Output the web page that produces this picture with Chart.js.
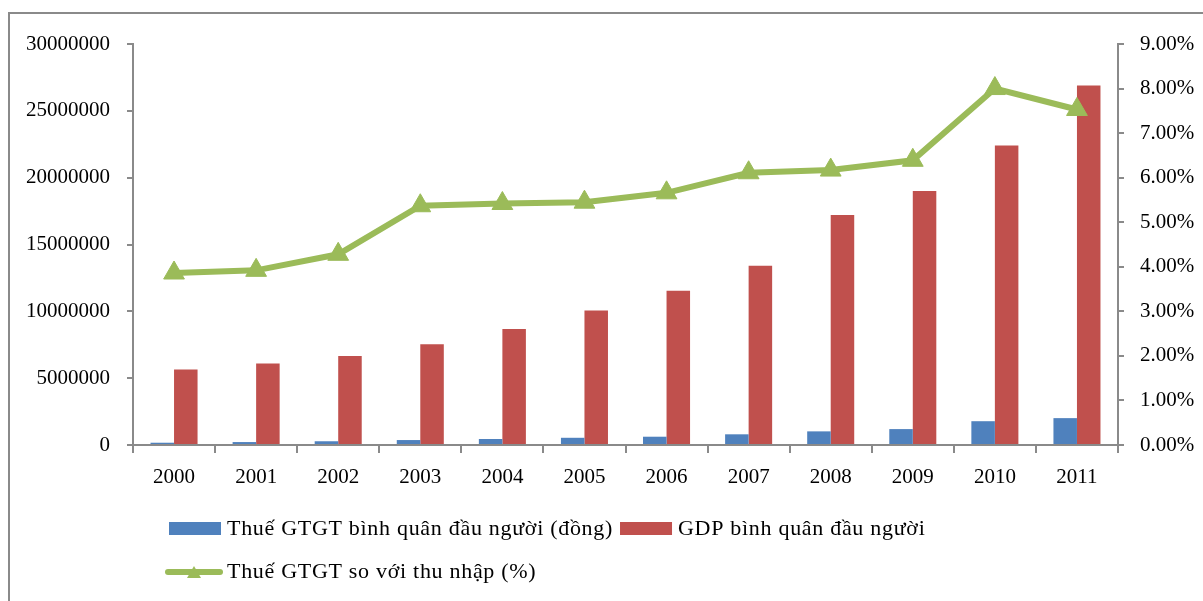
<!DOCTYPE html>
<html>
<head>
<meta charset="utf-8">
<script src="https://cdn.jsdelivr.net/npm/chart.js@4.4.1/dist/chart.umd.min.js"></script>
<style>
  html, body { margin: 0; padding: 0; background: #fff; }
  #wrap { position: relative; width: 1203px; height: 601px; }
</style>
</head>
<body>
<div id="wrap"><canvas id="vat" width="1203" height="601"></canvas></div>
<script>
// data
const years = ["2000", "2001", "2002", "2003", "2004", "2005", "2006", "2007", "2008", "2009", "2010", "2011"];
const vatPerCapita = [170000, 220000, 280000, 370000, 450000, 540000, 620000, 800000, 1020000, 1190000, 1780000, 2010000];
const gdpPerCapita = [5650000, 6100000, 6660000, 7540000, 8680000, 10070000, 11540000, 13410000, 17200000, 19000000, 22400000, 26900000];
const vatShare = [3.86, 3.92, 4.28, 5.37, 5.42, 5.45, 5.66, 6.11, 6.17, 6.39, 8.00, 7.53];

const labelVat = "Thuế GTGT bình quân đầu người (đồng)";
const labelGdp = "GDP bình quân đầu người";
const labelShare = "Thuế GTGT so với thu nhập (%)";

const BLUE = "#4F81BD", RED = "#C0504D", GREEN = "#9BBB59", AXIS = "#8a8a8a";
const FONT = '"Liberation Serif", "Times New Roman", serif';

// grey frame round the whole chart
const framePlugin = {
    id: "frame",
    beforeDraw(chart) {
        const ctx = chart.ctx;
        ctx.save();
        ctx.strokeStyle = AXIS;
        ctx.lineWidth = 2;
        ctx.strokeRect(9, 13, 1300, 700);
        ctx.restore();
    }
};

// legend laid out like the Excel one (two rows, left aligned)
const legendPlugin = {
    id: "xlLegend",
    afterDraw(chart) {
        const ctx = chart.ctx;
        const ds = chart.data.datasets;
        ctx.save();
        ctx.font = "22px " + FONT;
        ctx.letterSpacing = "0.7px";
        ctx.textBaseline = "alphabetic";
        let x = 169;
        [ds[0], ds[1]].forEach(d => {
            ctx.fillStyle = d.backgroundColor;
            ctx.fillRect(x, 522, 52, 13);
            ctx.fillStyle = "#000";
            ctx.fillText(d.label, x + 58, 535);
            x += 58 + ctx.measureText(d.label).width + 7;
        });
        const ln = ds[2];
        ctx.strokeStyle = ln.borderColor;
        ctx.lineWidth = 6;
        ctx.lineCap = "round";
        ctx.beginPath(); ctx.moveTo(168, 572); ctx.lineTo(220, 572); ctx.stroke();
        ctx.fillStyle = ln.borderColor;
        ctx.beginPath(); ctx.moveTo(194, 566); ctx.lineTo(201, 578); ctx.lineTo(187, 578); ctx.closePath(); ctx.fill();
        ctx.fillStyle = "#000";
        ctx.fillText(ln.label, 227, 578);
        ctx.restore();
    }
};

window.onload = function() {
    const ctx = document.getElementById("vat").getContext("2d");
    Chart.defaults.font.family = FONT;
    Chart.defaults.font.size = 21;
    Chart.defaults.color = "#000";

    new Chart(ctx, {
        type: "bar",
        data: {
            labels: years,
            datasets: [{
                label: labelVat,
                data: vatPerCapita,
                backgroundColor: BLUE,
                yAxisID: "y",
                order: 2
            }, {
                label: labelGdp,
                data: gdpPerCapita,
                backgroundColor: RED,
                yAxisID: "y",
                order: 2
            }, {
                type: "line",
                label: labelShare,
                data: vatShare,
                borderColor: GREEN,
                backgroundColor: GREEN,
                borderWidth: 6,
                pointStyle: "triangle",
                pointRadius: 12,
                pointBorderWidth: 1,
                pointBackgroundColor: GREEN,
                pointBorderColor: GREEN,
                tension: 0,
                yAxisID: "y1",
                order: 1
            }]
        },
        options: {
            responsive: false,
            animation: false,
            layout: { padding: { left: 0, right: 0, top: 44, bottom: 106 } },
            datasets: { bar: { categoryPercentage: 0.573, barPercentage: 1 } },
            plugins: { legend: { display: false }, tooltip: { enabled: false } },
            scales: {
                x: {
                    grid: { display: true, drawOnChartArea: false, drawTicks: true, tickLength: 8, color: AXIS, lineWidth: 2, offset: true },
                    border: { color: AXIS, width: 2 },
                    ticks: { padding: 12 },
                    afterFit(s) { s.height = 50; }
                },
                y: {
                    position: "left",
                    min: 0, max: 30000000,
                    ticks: { stepSize: 5000000, padding: 17, callback: v => String(v) },
                    grid: { drawOnChartArea: false, tickLength: 6, color: AXIS, lineWidth: 2 },
                    border: { color: AXIS, width: 2 },
                    afterFit(s) { s.width = 133; }
                },
                y1: {
                    position: "right",
                    min: 0, max: 9,
                    ticks: { stepSize: 1, padding: 16, callback: v => v.toFixed(2) + "%" },
                    grid: { drawOnChartArea: false, tickLength: 6, color: AXIS, lineWidth: 2 },
                    border: { color: AXIS, width: 2 },
                    afterFit(s) { s.width = 85; }
                }
            }
        },
        plugins: [framePlugin, legendPlugin]
    });
};
</script>
</body>
</html>
